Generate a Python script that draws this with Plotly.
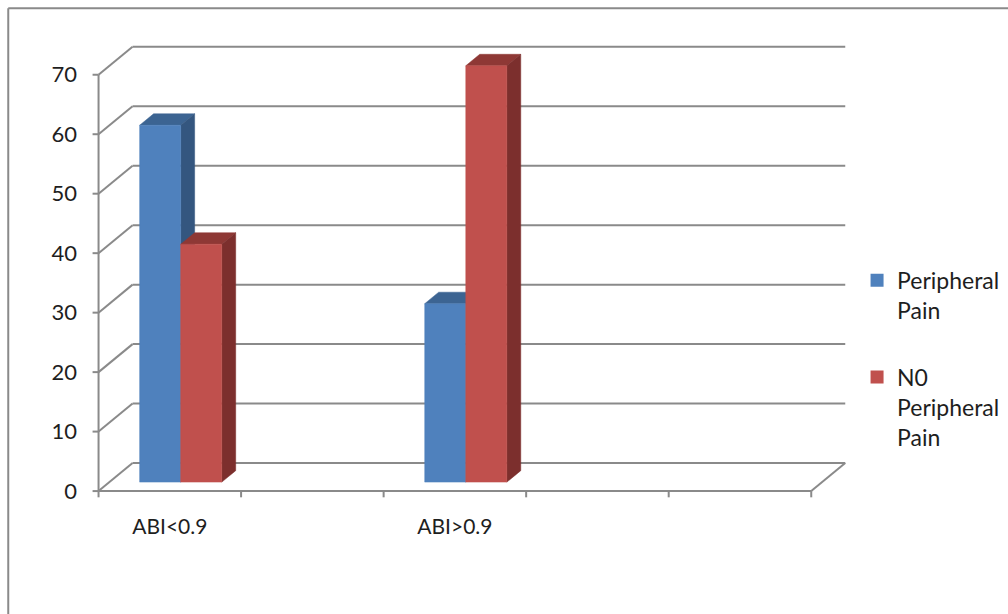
import plotly.graph_objects as go

# ---- data ----
categories = ["ABI<0.9", "", "ABI>0.9", "", ""]
series_names = ["Peripheral<br>Pain", "N0<br>Peripheral<br>Pain"]
peripheral_pain = [60, None, 30, None, None]
no_peripheral_pain = [40, None, 70, None, None]
y_ticks = [0, 10, 20, 30, 40, 50, 60, 70]

# ---- style / geometry ----
front_cols = ["#4F81BD", "#C0504D"]
side_cols = ["#34567F", "#7C2F2D"]
top_cols = ["#3C6492", "#8E3835"]
grid_col = "#8A8A8A"
DX, DY = 0.2386, 4.71          # depth of the back wall in data units
F0, FD = 0.32, 0.41            # bar front depth fraction, bar depth fraction
BW = 0.288                     # single bar width
FONT = "Lato"

fig = go.Figure()

def seg(x0, y0, x1, y1, col=grid_col, w=2):
    fig.add_trace(go.Scatter(x=[x0, x1], y=[y0, y1], mode="lines",
                             line=dict(color=col, width=w), showlegend=False,
                             hoverinfo="skip"))

n = len(categories)
# back wall gridlines and left diagonals
for v in y_ticks:
    seg(DX, v + DY, n + DX, v + DY)
    seg(0, v, DX, v + DY)
    seg(-0.042, v, 0, v)
# floor
seg(0, 0, n, 0)
seg(n, 0, n + DX, DY)
seg(0, 0, 0, y_ticks[-1])
for i in range(n + 1):
    seg(i, 0, i, -1.05)

def poly(xs, ys, col):
    fig.add_trace(go.Scatter(x=xs + [xs[0]], y=ys + [ys[0]], mode="lines",
                             fill="toself", fillcolor=col,
                             line=dict(color=col, width=0.5),
                             showlegend=False, hoverinfo="skip"))

series = [peripheral_pain, no_peripheral_pain]
for ci in range(n):
    for si, vals in enumerate(series):
        v = vals[ci]
        if v is None:
            continue
        xc = ci + 0.5 + F0 * DX
        x0 = xc - BW + si * BW
        x1 = x0 + BW
        b = F0 * DY
        ddx, ddy = FD * DX, FD * DY
        # top face
        poly([x0, x1, x1 + ddx, x0 + ddx], [b + v, b + v, b + v + ddy, b + v + ddy], top_cols[si])
        # side face
        poly([x1, x1 + ddx, x1 + ddx, x1], [b, b + ddy, b + v + ddy, b + v], side_cols[si])
        # front face
        poly([x0, x1, x1, x0], [b, b, b + v, b + v], front_cols[si])

# legend entries
for si, name in enumerate(series_names):
    fig.add_trace(go.Scatter(x=[None], y=[None], mode="markers", name=name,
                             marker=dict(symbol="square", size=13, color=front_cols[si]),
                             legendgroup=str(si)))

fig.update_layout(
    width=1008, height=614,
    margin=dict(l=90, r=154, t=45, b=114, autoexpand=False),
    paper_bgcolor="white", plot_bgcolor="white",
    font=dict(family=FONT, size=21, color="#1E1E1E"),
    showlegend=True,
    legend=dict(x=1.004, y=0.53, xanchor="left", yanchor="top",
                font=dict(size=23, family=FONT, color="#1E1E1E"),
                valign="top", tracegroupgap=34, itemwidth=30,
                bgcolor="rgba(0,0,0,0)"),
    xaxis=dict(range=[-0.06, 5.3], showgrid=False, zeroline=False, showline=False,
               automargin=False,
               tickmode="array", tickvals=[i + 0.5 for i, c in enumerate(categories) if c],
               ticktext=[c for c in categories if c],
               ticks="outside", ticklen=8, tickcolor="rgba(0,0,0,0)",
               tickfont=dict(size=21, family=FONT)),
    yaxis=dict(range=[-1.5, 75], showgrid=False, zeroline=False, showline=False,
               automargin=False,
               tickmode="array", tickvals=y_ticks, ticks="", ticklabelstandoff=12,
               tickfont=dict(size=22, family=FONT)),
    shapes=[
        dict(type="line", xref="paper", yref="paper", x0=-0.107, x1=1.3, y0=1.081, y1=1.081,
             line=dict(color="#8A8A8A", width=2)),
        dict(type="line", xref="paper", yref="paper", x0=-0.107, x1=-0.107, y0=1.081, y1=-0.4,
             line=dict(color="#8A8A8A", width=2)),
    ],
)

fig.write_html("out.html")
